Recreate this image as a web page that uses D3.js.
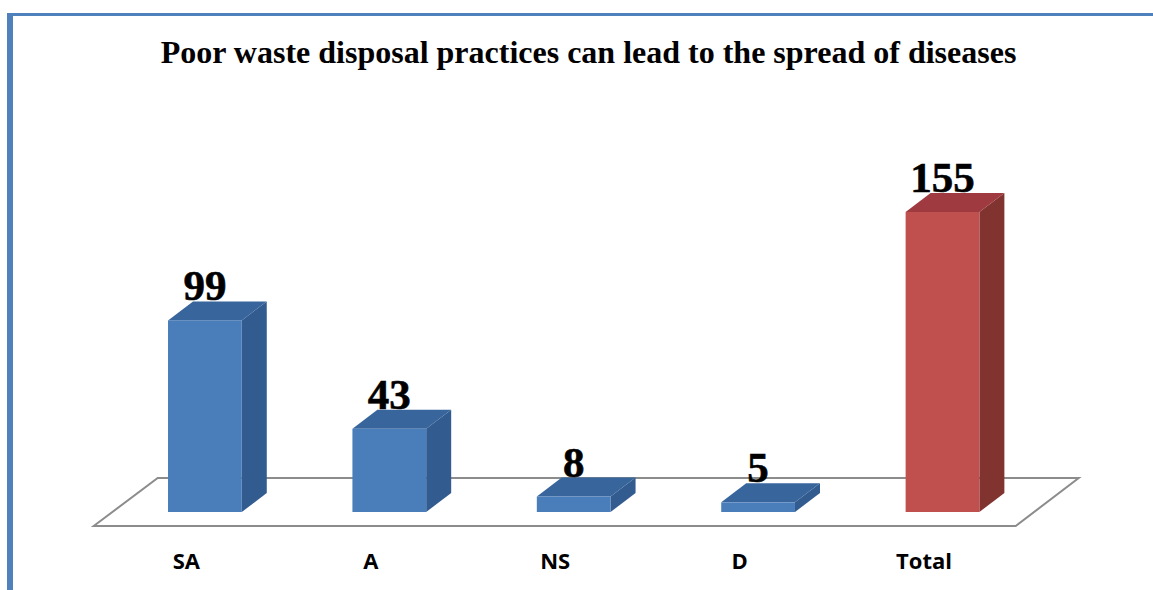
<!DOCTYPE html>
<head>
    <meta charset="utf-8">
    <script src="https://d3js.org/d3.v7.min.js"></script>
    <style>
        body { margin:0; background:#fff; overflow:hidden; }
        svg { display:block; }
    </style>
</head>
<body>
<script>
    var categories = ["SA", "A", "NS", "D", "Total"];
    var values = [99, 43, 8, 5, 155];
    var frontColors = ["#4a7ebb", "#4a7ebb", "#4a7ebb", "#4a7ebb", "#c0504d"];
    var topColors = ["#37659c", "#37659c", "#37659c", "#37659c", "#a03a41"];
    var sideColors = ["#325c8f", "#325c8f", "#325c8f", "#325c8f", "#80332f"];
    var titleText = "Poor waste disposal practices can lead to the spread of diseases";

    var width = 1153, height = 590;

    var svg = d3.select("body").append("svg")
        .attr("width", width)
        .attr("height", height);

    var x = d3.scaleBand()
        .domain(categories)
        .range([112.7, 1034.7])
        .paddingInner(0.6)
        .paddingOuter(0.3);

    var y = d3.scaleLinear().domain([0, 155]).range([512, 212]);

    // depth of the fake 3d
    var dx = 25, dy = -19;
    var bw = x.bandwidth();

    // blue frame, only top and left show
    svg.append("path")
        .attr("d", "M10,590V14.5H1153")
        .attr("fill", "none")
        .attr("stroke", "#4f81bd")
        .attr("stroke-width", 3);
    svg.append("rect")
        .attr("x", 7).attr("y", 13)
        .attr("width", 6).attr("height", 577)
        .attr("fill", "#4f81bd");

    svg.append("text")
        .attr("x", 588.5)
        .attr("y", 63)
        .attr("text-anchor", "middle")
        .style("font-family", "'Liberation Serif'")
        .style("font-weight", "bold")
        .style("font-size", "32px")
        .attr("fill", "#000")
        .text(titleText);

    // floor
    var floorLeft = x.range()[0] - 19, floorRight = x.range()[1] - 19;
    var floorFront = y(0) + 14, floorBack = y(0) - 34;
    var floor = [[floorLeft, floorFront], [floorLeft + 64, floorBack],
        [floorRight + 63, floorBack], [floorRight, floorFront]];
    svg.append("path")
        .attr("d", d3.line()(floor) + "Z")
        .attr("fill", "none")
        .attr("stroke", "#8c8c8c")
        .attr("stroke-width", 2);

    var bars = svg.selectAll("g.bar")
        .data(categories)
        .enter().append("g")
        .attr("class", "bar");

    bars.append("path")
        .attr("d", function(d, i) {
            var x0 = x(d) + bw, y0 = y(values[i]), y1 = y(0);
            return d3.line()([[x0, y0], [x0 + dx, y0 + dy], [x0 + dx, y1 + dy], [x0, y1]]) + "Z";
        })
        .attr("fill", function(d, i) { return sideColors[i]; });

    bars.append("path")
        .attr("d", function(d, i) {
            var x0 = x(d), y0 = y(values[i]);
            return d3.line()([[x0, y0], [x0 + dx, y0 + dy], [x0 + bw + dx, y0 + dy], [x0 + bw, y0]]) + "Z";
        })
        .attr("fill", function(d, i) { return topColors[i]; });

    bars.append("rect")
        .attr("x", function(d) { return x(d); })
        .attr("y", function(d, i) { return y(values[i]); })
        .attr("width", bw)
        .attr("height", function(d, i) { return y(0) - y(values[i]); })
        .attr("fill", function(d, i) { return frontColors[i]; });

    // value labels sit on the back edge of the top face
    bars.append("text")
        .attr("x", function(d) { return x(d) + bw / 2; })
        .attr("y", function(d, i) { return y(values[i]) + dy - 1; })
        .attr("text-anchor", "middle")
        .style("font-family", "'Liberation Serif'")
        .style("font-weight", "bold")
        .style("font-size", "43px")
        .attr("stroke", "#000")
        .attr("stroke-width", 0.6)
        .attr("fill", "#000")
        .text(function(d, i) { return values[i]; });

    bars.append("text")
        .attr("x", function(d) { return x(d) + bw / 2 - 18.5; })
        .attr("y", 569)
        .attr("text-anchor", "middle")
        .style("font-family", "'Open Sans'")
        .style("font-weight", "bold")
        .style("font-size", "22px")
        .attr("fill", "#000")
        .text(function(d) { return d; });
</script>
</body>
